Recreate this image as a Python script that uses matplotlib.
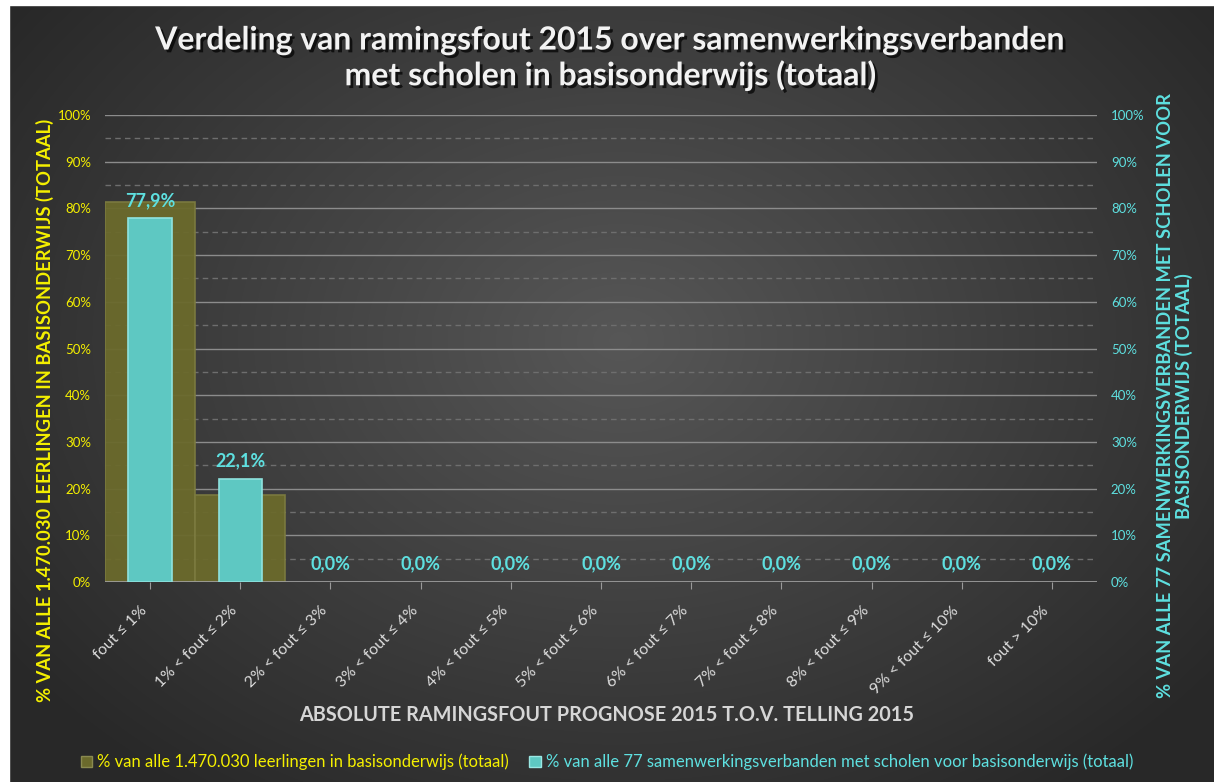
import numpy as np
import matplotlib.pyplot as plt
import matplotlib.patheffects as pe
from matplotlib.transforms import ScaledTranslation
from matplotlib.ticker import MultipleLocator, PercentFormatter

plt.rcParams['font.family'] = ['Lato', 'DejaVu Sans']

categories = ["fout ≤ 1%", "1% < fout ≤ 2%", "2% < fout ≤ 3%", "3% < fout ≤ 4%",
              "4% < fout ≤ 5%", "5% < fout ≤ 6%", "6% < fout ≤ 7%", "7% < fout ≤ 8%",
              "8% < fout ≤ 9%", "9% < fout ≤ 10%", "fout > 10%"]
leerlingen = [81.4, 18.6, 0, 0, 0, 0, 0, 0, 0, 0, 0]
samenwerking = [77.9, 22.1, 0, 0, 0, 0, 0, 0, 0, 0, 0]

YELLOW = "#f5f000"
CYAN = "#5ee0e0"
OLIVE = "#6b6a2c"
TEAL = "#5ec8c2"

W, H = 1214, 782
fig = plt.figure(figsize=(W / 100, H / 100), dpi=100)

# radial dark background
bg = fig.add_axes([0, 0, 1, 1], zorder=-10)
yy, xx = np.mgrid[0:H, 0:W]
r = np.sqrt(((xx - 620) / 700) ** 2 + ((yy - 340) / 520) ** 2)
shade = np.clip(0.34 - 0.17 * r, 0.16, 0.34)
bg.imshow(np.dstack([shade] * 3), aspect="auto", extent=[0, W, H, 0])
bg.fill_between([0, 9], 0, H, color="white")
bg.fill_between([0, W], 0, 5, color="white")
bg.set_xlim(0, W)
bg.set_ylim(H, 0)
bg.axis("off")

ax = fig.add_axes([105 / W, 1 - 582 / H, (1097 - 105) / W, (582 - 115) / H])
ax.set_facecolor("none")
ax2 = ax.twinx()

x = np.arange(len(categories))
lw_olive = [1.2 if v > 0 else 0 for v in leerlingen]
lw_teal = [1.2 if v > 0 else 0 for v in samenwerking]
ax.bar(x, leerlingen, width=1.0, color=OLIVE, edgecolor="#7c7b40", linewidth=lw_olive,
       alpha=0.95, zorder=3)
ax2.bar(x, samenwerking, width=0.48, color=TEAL, edgecolor="#8fe3df",
        linewidth=lw_teal, zorder=3)
for xi, v in zip(x, samenwerking):
    ax2.text(xi, v + 2.0, f"{v:.1f}%".replace(".", ","), ha="center", va="bottom",
             color=CYAN, fontsize=13, fontweight="bold")

for a in (ax, ax2):
    a.set_ylim(0, 100)
    a.set_xlim(-0.5, len(categories) - 0.5)
    a.yaxis.set_major_locator(MultipleLocator(10))
    a.yaxis.set_major_formatter(PercentFormatter(decimals=0))
    for s in a.spines.values():
        s.set_visible(False)

ax.yaxis.set_minor_locator(MultipleLocator(5))
ax.grid(axis="y", which="major", color="#8c8c8c", linewidth=1.0, zorder=0)
ax.grid(axis="y", which="minor", color="#6e6e6e", linewidth=1.0, linestyle=(0, (4, 3)), zorder=0)
ax.set_axisbelow(True)
ax.axhline(0, color="#a0a0a0", linewidth=1.2, zorder=4)

ax.tick_params(axis="y", which="both", length=0, colors=YELLOW, labelsize=9.5, pad=10)
ax2.tick_params(axis="y", which="both", length=0, colors=CYAN, labelsize=9.5, pad=10)
ax.set_xticks(x)
ax.set_xticklabels(categories, rotation=45, ha="right", rotation_mode="anchor")
ax.tick_params(axis="x", length=5, color="#9a9a9a", labelcolor="#dcdcdc", labelsize=11.5, pad=4)
shift = ScaledTranslation(-10 / 100, -9 / 100, fig.dpi_scale_trans)
for lbl in ax.get_xticklabels():
    lbl.set_transform(lbl.get_transform() + shift)

fig.text(45 / W, 1 - 410 / H, "% VAN ALLE 1.470.030 LEERLINGEN IN BASISONDERWIJS (TOTAAL)",
         rotation=90, ha="center", va="center", color=YELLOW, fontsize=13.2, fontweight="bold")
fig.text(1175 / W, 1 - 396 / H,
         "% VAN ALLE 77 SAMENWERKINGSVERBANDEN MET SCHOLEN VOOR\nBASISONDERWIJS (TOTAAL)",
         rotation=90, ha="center", va="center", color=CYAN, fontsize=13.2, fontweight="bold",
         linespacing=1.05, multialignment="center")

fig.text(0.5, 1 - 715 / H, "ABSOLUTE RAMINGSFOUT PROGNOSE 2015 T.O.V. TELLING 2015",
         ha="center", va="center", color="#d6d6d6", fontsize=14.3, fontweight="bold")

fig.text(0.503, 1 - 58 / H,
         "Verdeling van ramingsfout 2015 over samenwerkingsverbanden\nmet scholen in basisonderwijs (totaal)",
         ha="center", va="center", color="#f2f2f2", fontsize=23, fontweight="bold",
         linespacing=1.2,
         path_effects=[pe.withSimplePatchShadow(offset=(2, -2), shadow_rgbFace="black", alpha=0.7)])

handles = [plt.Rectangle((0, 0), 1, 1, facecolor=OLIVE, edgecolor="#8a8a50"),
           plt.Rectangle((0, 0), 1, 1, facecolor=TEAL, edgecolor="#9ae8e4")]
labels = ["% van alle 1.470.030 leerlingen in basisonderwijs (totaal)",
          "% van alle 77 samenwerkingsverbanden met scholen voor basisonderwijs (totaal)"]
fig.legend(handles, labels, loc="center", bbox_to_anchor=(0.5, 1 - 762 / H), ncol=2,
           frameon=False, fontsize=12, labelcolor=[YELLOW, CYAN], handlelength=0.7,
           handleheight=0.7, handletextpad=0.3, columnspacing=1.2)

fig.savefig("out.png", dpi=100)
